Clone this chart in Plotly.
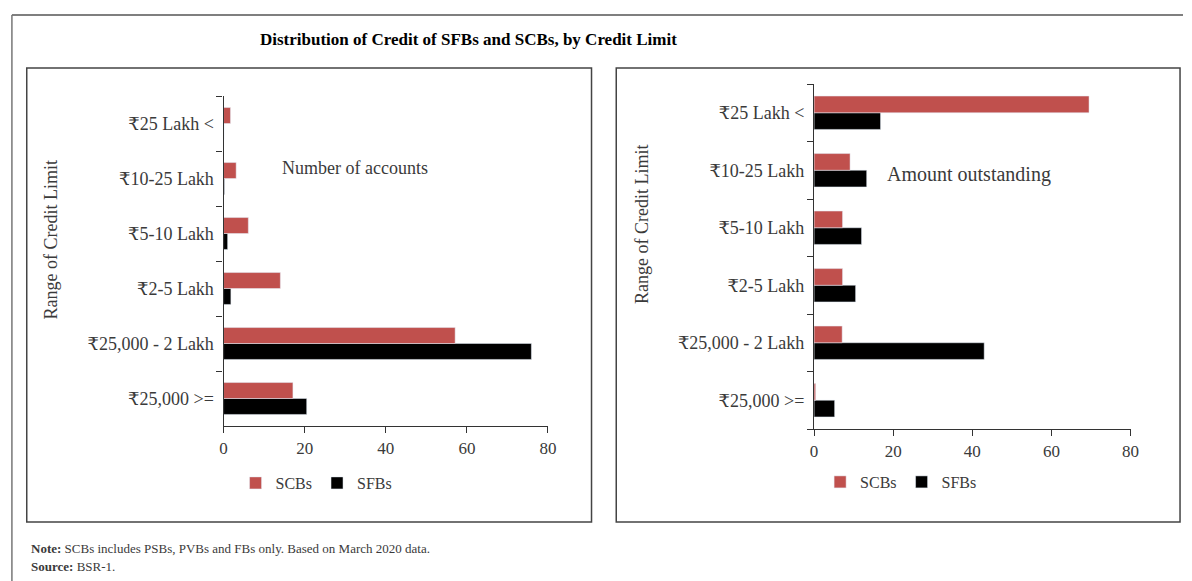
import plotly.graph_objects as go

categories = ["₹25,000 >=", "₹25,000 - 2 Lakh", "₹2-5 Lakh", "₹5-10 Lakh", "₹10-25 Lakh", "₹25 Lakh <"]

accounts_scbs = [17.1, 57.1, 14.0, 6.1, 3.1, 1.7]
accounts_sfbs = [20.5, 75.9, 1.8, 1.0, 0.2, 0.1]

amount_scbs = [0.4, 7.1, 7.2, 7.2, 9.1, 69.5]
amount_sfbs = [5.2, 43.0, 10.5, 12.0, 13.3, 16.8]

x_ticks = [0, 20, 40, 60, 80]

W, H = 1192, 581
RED = "#C0504D"
BLACK = "#000000"
SERIF = "Liberation Serif, DejaVu Serif, serif"
TXT = "#3a3a3a"


def px(x):
    return x / W


def py(y):
    return 1 - y / H


fig = go.Figure()

# Left panel (SFBs first so SCBs sit on top within each group)
fig.add_trace(go.Bar(y=categories, x=accounts_sfbs, orientation="h", name="SFBs",
                     marker_color=BLACK, xaxis="x", yaxis="y", legend="legend"))
fig.add_trace(go.Bar(y=categories, x=accounts_scbs, orientation="h", name="SCBs",
                     marker_color=RED, xaxis="x", yaxis="y", legend="legend"))
# Right panel
fig.add_trace(go.Bar(y=categories, x=amount_sfbs, orientation="h", name="SFBs",
                     marker_color=BLACK, xaxis="x2", yaxis="y2", legend="legend2"))
fig.add_trace(go.Bar(y=categories, x=amount_scbs, orientation="h", name="SCBs",
                     marker_color=RED, xaxis="x2", yaxis="y2", legend="legend2"))

tickfont = dict(family=SERIF, size=17, color=TXT)
ytickfont = dict(family=SERIF, size=18, color=TXT)

xaxis_common = dict(range=[0, 80], tickvals=x_ticks, showline=True, linecolor="#333333",
                    linewidth=1.2, ticks="outside", ticklen=6, tickcolor="#333333",
                    showgrid=False, zeroline=False, tickfont=tickfont, fixedrange=True)
yaxis_common = dict(showline=True, linecolor="#333333", linewidth=1.2, ticks="outside",
                    ticklen=6, tickcolor="#333333", tickson="boundaries", showgrid=False,
                    tickfont=ytickfont, fixedrange=True, ticklabelstandoff=5,
                    categoryorder="array", categoryarray=categories)

legfont = dict(family=SERIF, size=16, color=TXT)

fig.update_layout(
    width=W, height=H,
    margin=dict(l=0, r=0, t=0, b=0),
    paper_bgcolor="white", plot_bgcolor="white",
    barmode="group", bargap=0.42, bargroupgap=0,
    font=dict(family=SERIF, color=TXT),
    xaxis=dict(domain=[px(222), px(550)], anchor="y", **xaxis_common),
    yaxis=dict(domain=[py(426), py(96)], anchor="x", **yaxis_common),
    xaxis2=dict(domain=[px(819), px(1139)], anchor="y2", **xaxis_common),
    yaxis2=dict(domain=[py(429), py(84)], anchor="x2", **yaxis_common),
    legend=dict(orientation="h", x=px(316), y=py(483), xanchor="center", yanchor="middle",
                traceorder="reversed", font=legfont, itemwidth=30,
                bgcolor="rgba(0,0,0,0)"),
    legend2=dict(orientation="h", x=px(907), y=py(482), xanchor="center", yanchor="middle",
                 traceorder="reversed", font=legfont, itemwidth=30,
                 bgcolor="rgba(0,0,0,0)"),
    showlegend=True,
)

shapes = [
    # outer frame
    dict(type="line", xref="paper", yref="paper", x0=px(8), y0=py(15), x1=1, y1=py(15),
         line=dict(color="#555555", width=1.5)),
    dict(type="line", xref="paper", yref="paper", x0=px(8), y0=py(15), x1=px(8), y1=0,
         line=dict(color="#777777", width=1.5)),
    # panel boxes
    dict(type="rect", xref="paper", yref="paper", x0=px(23), y0=py(68), x1=px(594), y1=py(522),
         line=dict(color="#444444", width=1.5)),
    dict(type="rect", xref="paper", yref="paper", x0=px(619), y0=py(68), x1=px(1189), y1=py(522),
         line=dict(color="#444444", width=1.5)),
]
fig.update_layout(shapes=shapes)

annotations = [
    dict(text="<b>Distribution of Credit of SFBs and SCBs, by Credit Limit</b>", x=px(470), y=py(40),
         xref="paper", yref="paper", showarrow=False, xanchor="center", yanchor="middle",
         font=dict(family="Liberation Serif, serif", size=17, color="#000000")),
    dict(text="Number of accounts", x=px(355), y=py(168), xref="paper", yref="paper",
         showarrow=False, xanchor="center", yanchor="middle",
         font=dict(family=SERIF, size=18, color=TXT)),
    dict(text="Amount outstanding", x=px(976), y=py(175), xref="paper", yref="paper",
         showarrow=False, xanchor="center", yanchor="middle",
         font=dict(family=SERIF, size=20, color=TXT)),
    dict(text="Range of Credit Limit", x=px(48), y=py(240), xref="paper", yref="paper",
         showarrow=False, textangle=-90, xanchor="center", yanchor="middle",
         font=dict(family=SERIF, size=18, color=TXT)),
    dict(text="Range of Credit Limit", x=px(645), y=py(224), xref="paper", yref="paper",
         showarrow=False, textangle=-90, xanchor="center", yanchor="middle",
         font=dict(family=SERIF, size=18, color=TXT)),
    dict(text="<b>Note:</b> SCBs includes PSBs, PVBs and FBs only. Based on March 2020 data.",
         x=px(25), y=py(548), xref="paper", yref="paper", showarrow=False,
         xanchor="left", yanchor="middle",
         font=dict(family=SERIF, size=13, color=TXT)),
    dict(text="<b>Source:</b> BSR-1.",
         x=px(25), y=py(566), xref="paper", yref="paper", showarrow=False,
         xanchor="left", yanchor="middle",
         font=dict(family=SERIF, size=13, color=TXT)),
]
fig.update_layout(annotations=annotations)

post = """
document.documentElement.style.margin='0';
document.documentElement.style.overflow='hidden';
document.body.style.margin='0';
document.body.style.padding='0';
document.body.style.overflow='hidden';
var gd = document.getElementById('{plot_id}');
gd.style.position='absolute';
gd.style.left='0px';
gd.style.top='0px';
Plotly.relayout(gd, {width: 1192, height: 581});
"""

fig.write_html("out.html", config={"responsive": False, "displayModeBar": False},
               post_script=post)
